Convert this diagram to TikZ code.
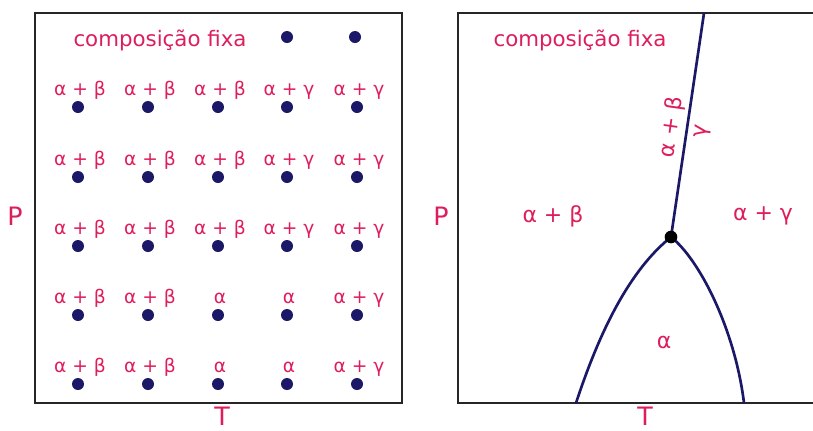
\documentclass[tikz,border=0pt]{standalone}
\usepackage{fontspec}
\setmainfont{DejaVu Sans}
\usetikzlibrary{positioning}
\definecolor{faserosa}{RGB}{221, 30, 90}
\definecolor{azulmarinho}{RGB}{28, 24, 104}
\tikzset{
    caixa/.style={line width=2pt, draw=black!85},
    ponto/.style={circle, fill=azulmarinho, inner sep=0pt, minimum size=9pt},
    fase/.style={text=faserosa, font=\fontsize{14}{16}\selectfont, inner sep=0pt, anchor=base},
    regiao/.style={text=faserosa, font=\fontsize{16.5}{19}\selectfont, inner sep=0pt},
    titulo/.style={text=faserosa, font=\fontsize{16}{19}\selectfont, inner sep=0pt},
    eixo/.style={text=faserosa, font=\fontsize{19}{22}\selectfont, inner sep=0pt},
    fronteira/.style={line width=2pt, draw=azulmarinho},
}

\begin{document}
\begin{tikzpicture}[x=0.75pt, y=-0.75pt]
    \useasboundingbox (0,0) rectangle (813,430);

    % Left: fixed composition, grid of states
    \draw[caixa] (35,13) rectangle (402,403);
    \node[titulo] (titulo-esq) at (160,40) {composição fixa};
    \node[ponto] (p-0-4) at (287,37) {};
    \node[ponto] (p-0-5) at (355,37) {};
    \foreach \y [count=\r] in {107,177,246} {
        \foreach \x/\txt [count=\c] in {78/α + β,148/α + β,218/α + β,287/α + γ,357/α + γ} {
            \node[ponto] (p-\r-\c) at (\x,\y) {};
            \node[fase] (f-\r-\c) at (\x+2,\y-12) {\txt};
        }
    }
    \foreach \y [count=\r from 4] in {315,384} {
        \foreach \x/\txt [count=\c] in {78/α + β,148/α + β,218/α,287/α,357/α + γ} {
            \node[ponto] (p-\r-\c) at (\x,\y) {};
            \node[fase] (f-\r-\c) at (\x+2,\y-12) {\txt};
        }
    }
    \node[eixo] (P-esq) at (15,216) {P};
    \node[eixo] (T-esq) at (222,416) {T};

    % Right: phase regions
    \draw[caixa] (820,13) -- (458,13) -- (458,403) -- (820,403);
    \node[titulo] (titulo-dir) at (580,40) {composição fixa};
    \coordinate (tripla) at (671,237);
    \coordinate (topo) at (704,13);
    \coordinate (base-esq) at (576,403);
    \coordinate (base-dir) at (744,403);
    \draw[fronteira] (tripla) -- (topo);
    \draw[fronteira] (base-esq) .. controls (600,330) and (630,270) .. (tripla);
    \draw[fronteira] (tripla) .. controls (700,260) and (735,330) .. (base-dir);
    \node[circle, fill=black, inner sep=0pt, minimum size=9.5pt] (ponto-triplo) at (tripla) {};

    \node[regiao] (ab) at (553,216) {α + β};
    \node[regiao] (ag) at (763,216) {α + γ};
    \node[regiao] (a) at (664,342) {α};
    \node[regiao, rotate=82] (ab-linha) at (672,127) {α + β};
    \node[regiao, rotate=82] (g-linha) at (703,132) {γ};
    \node[eixo] (P-dir) at (441,216) {P};
    \node[eixo] (T-dir) at (645,416) {T};
\end{tikzpicture}
\end{document}
